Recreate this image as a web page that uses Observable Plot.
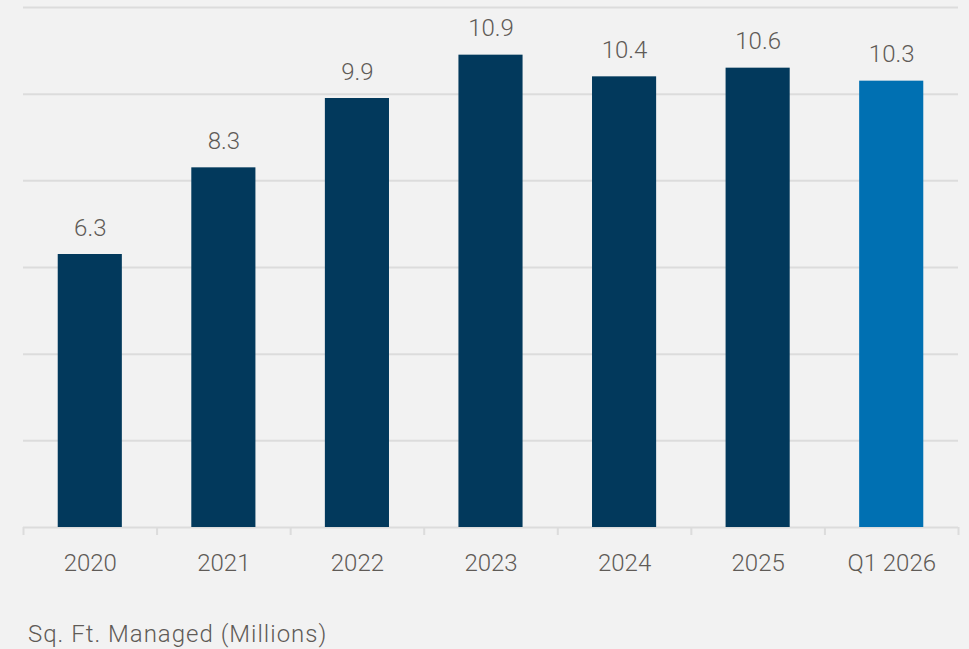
<!DOCTYPE html>
<html>
<head>
<meta charset="utf-8">
<script src="https://cdn.jsdelivr.net/npm/d3@7"></script>
<script src="https://cdn.jsdelivr.net/npm/@observablehq/plot@0.6"></script>
<style>
  html, body { margin: 0; padding: 0; background: #f2f2f2; }
  #caption { font-family: Roboto, sans-serif; font-weight: 300; font-size: 24px; letter-spacing: 1px; color: #5f5b57; margin: 20px 0 0 28px; line-height: 1.2; white-space: nowrap; }
</style>
</head>
<body>
<div id="chart"></div>
<div id="caption">Sq. Ft. Managed (Millions)</div>
<script>
const categories = ["2020", "2021", "2022", "2023", "2024", "2025", "Q1 2026"];
const values = [6.3, 8.3, 9.9, 10.9, 10.4, 10.6, 10.3];
const highlight = ["Q1 2026"];
const yTicks = [0, 2, 4, 6, 8, 10, 12];

const data = categories.map((c, i) => ({category: c, value: values[i], hl: highlight.includes(c)}));

const W = 969, H = 600;
const mL = 23, mR = 11, mT = 7, mB = 73;
const step = (W - mL - mR) / categories.length;
const textColor = "#5f5b57";

const chart = Plot.plot({
  width: W,
  height: H,
  marginLeft: mL,
  marginRight: mR,
  marginTop: mT,
  marginBottom: mB,
  style: {background: "#f2f2f2", fontFamily: "Roboto, sans-serif", fontWeight: 300, color: textColor},
  x: {domain: categories, paddingInner: 0.52, paddingOuter: 0.26, round: false, label: null},
  y: {domain: [0, 12], label: null, axis: null},
  marks: [
    Plot.ruleY(yTicks, {stroke: "#dcdcdc", strokeWidth: 2}),
    Plot.ruleX(categories, {x: d => d, y1: 0, y2: 0, insetBottom: -8, dx: -step / 2, stroke: "#dcdcdc", strokeWidth: 2}),
    Plot.ruleX(categories.slice(-1), {x: d => d, y1: 0, y2: 0, insetBottom: -8, dx: step / 2, stroke: "#dcdcdc", strokeWidth: 2}),
    Plot.barY(data, {x: "category", y: "value", fill: d => d.hl ? "#0070b2" : "#02395c"}),
    Plot.text(data, {x: "category", y: "value", text: d => d.value.toFixed(1), dy: -19, lineAnchor: "bottom", fontSize: 24, fontWeight: 300, fill: textColor}),
    Plot.axisX({tickSize: 0, tickPadding: 26, fontSize: 24, fontWeight: 300, fill: textColor, label: null})
  ]
});
document.getElementById("chart").append(chart);
</script>
</body>
</html>
